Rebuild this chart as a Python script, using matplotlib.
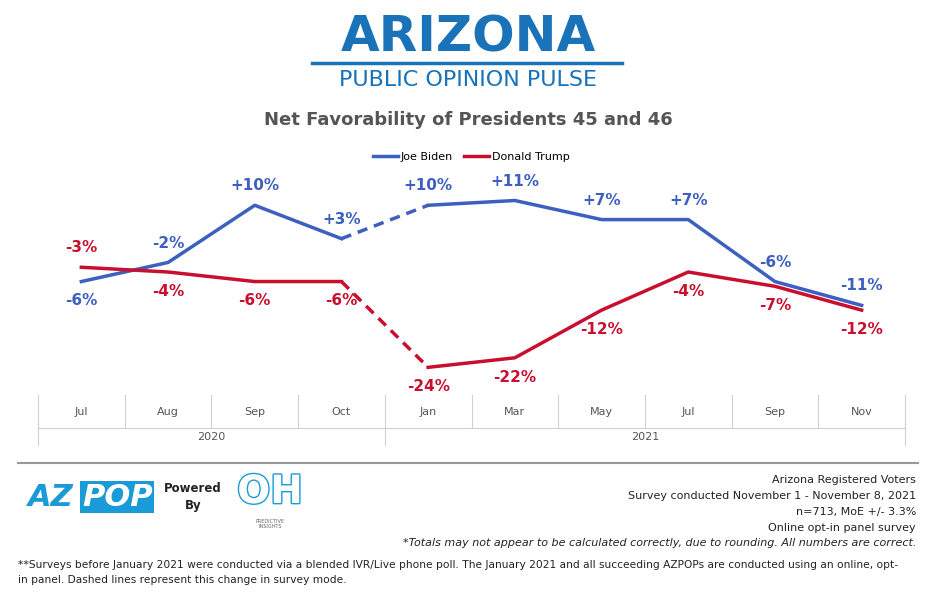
import matplotlib.pyplot as plt
import matplotlib.patheffects as pe
from matplotlib.lines import Line2D

months = ["Jul", "Aug", "Sep", "Oct", "Jan", "Mar", "May", "Jul", "Sep", "Nov"]
years = ["2020", "2021"]
biden = [-6, -2, 10, 3, 10, 11, 7, 7, -6, -11]
trump = [-3, -4, -6, -6, -24, -22, -12, -4, -7, -12]
biden_pos = ["below", "above", "above", "above", "above", "above", "above", "above", "above", "above"]
trump_pos = ["above", "below", "below", "below", "below", "below", "below", "below", "below", "below"]

BLUE = "#3d5fbf"
RED = "#c8102e"
W, H = 936, 596

fig = plt.figure(figsize=(W / 100, H / 100), dpi=100)

def fx(px):
    return px / W

def fy(py):
    return 1 - py / H

# header
fig.text(fx(468), fy(38), "ARIZONA", ha="center", va="center", fontsize=36,
         fontweight="bold", color="#1a73b8")
fig.add_artist(Line2D([fx(312), fx(622)], [fy(63), fy(63)], color="#1a73b8", lw=2.5))
fig.text(fx(468), fy(80), "PUBLIC OPINION PULSE", ha="center", va="center",
         fontsize=16, color="#1a73b8")
fig.text(fx(468), fy(120), "Net Favorability of Presidents 45 and 46", ha="center",
         va="center", fontsize=13, fontweight="bold", color="#555555")

# plot area
ax = fig.add_axes([fx(38), fy(395), fx(905) - fx(38), (395 - 170) / H])
x = list(range(len(months)))
ax.plot(x[:4], biden[:4], color=BLUE, lw=2.5)
ax.plot(x[3:5], biden[3:5], color=BLUE, lw=2.5, ls=(0, (3, 2)))
ax.plot(x[4:], biden[4:], color=BLUE, lw=2.5)
ax.plot(x[:4], trump[:4], color=RED, lw=2.5)
ax.plot(x[3:5], trump[3:5], color=RED, lw=2.5, ls=(0, (3, 2)))
ax.plot(x[4:], trump[4:], color=RED, lw=2.5)
ax.set_xlim(-0.5, len(months) - 0.5)
ax.set_ylim(-29.8, 17.4)
ax.axis("off")

def lab(v):
    return f"+{v}%" if v > 0 else f"{v}%"

for i in x:
    for vals, pos, c in ((biden, biden_pos, BLUE), (trump, trump_pos, RED)):
        off = 14 if pos[i] == "above" else -14
        ax.annotate(lab(vals[i]), (i, vals[i]), xytext=(0, off), textcoords="offset points",
                    ha="center", va="center", fontsize=11, fontweight="bold", color=c)

# legend
ax.legend(handles=[Line2D([], [], color=BLUE, lw=2.5, label="Joe Biden"),
                   Line2D([], [], color=RED, lw=2.5, label="Donald Trump")],
          loc="center", bbox_to_anchor=(0.5, 1.06), ncol=2, frameon=False,
          fontsize=8, handlelength=2.2, columnspacing=1.0, handletextpad=0.3)

# category axis
left, right = 38, 905
step = (right - left) / len(months)
for i, m in enumerate(months):
    fig.text(fx(left + step * (i + 0.5)), fy(412), m, ha="center", va="center",
             fontsize=8, color="#555555")
for i in range(len(months) + 1):
    y2 = 445 if i in (0, 4, 10) else 428
    fig.add_artist(Line2D([fx(left + step * i)] * 2, [fy(395), fy(y2)], color="#d0d0d0", lw=0.8))
fig.add_artist(Line2D([fx(left), fx(right)], [fy(428), fy(428)], color="#d0d0d0", lw=0.8))
fig.text(fx(left + step * 2), fy(437), years[0], ha="center", va="center", fontsize=8, color="#555555")
fig.text(fx(left + step * 7), fy(437), years[1], ha="center", va="center", fontsize=8, color="#555555")

# footer
fig.add_artist(Line2D([fx(18), fx(918)], [fy(463), fy(463)], color="#999999", lw=1.5))
fig.text(fx(28), fy(497), "AZ", ha="left", va="center", fontsize=22, fontweight="bold",
         color="#1a9ad6", fontstyle="italic")
fig.text(fx(82), fy(497), "POP", ha="left", va="center", fontsize=22, fontweight="bold",
         color="white", fontstyle="italic",
         bbox=dict(boxstyle="square,pad=0.05", fc="#1a9ad6", ec="none"))
fig.text(fx(193), fy(497), "Powered\nBy", ha="center", va="center", fontsize=8.5,
         fontweight="bold", color="#222222", linespacing=1.5)
t = fig.text(fx(270), fy(492), "OH", ha="center", va="center", fontsize=28, color="white",
             fontweight="bold")
t.set_path_effects([pe.withStroke(linewidth=2, foreground="#1a9ad6")])
fig.text(fx(270), fy(524), "PREDICTIVE\nINSIGHTS", ha="center", va="center",
         fontsize=3.5, color="#666666")

rx = fx(916)
lines = ["Arizona Registered Voters",
         "Survey conducted November 1 - November 8, 2021",
         "n=713, MoE +/- 3.3%",
         "Online opt-in panel survey"]
for k, s in enumerate(lines):
    fig.text(rx, fy(480 + 16 * k), s, ha="right", va="center", fontsize=8, color="#222222")
fig.text(rx, fy(543), "*Totals may not appear to be calculated correctly, due to rounding. All numbers are correct.",
         ha="right", va="center", fontsize=8, fontstyle="italic", color="#222222")
fig.text(fx(18), fy(565), "**Surveys before January 2021 were conducted via a blended IVR/Live phone poll. The January 2021 and all succeeding AZPOPs are conducted using an online, opt-",
         ha="left", va="center", fontsize=7.7, color="#222222")
fig.text(fx(18), fy(580), "in panel. Dashed lines represent this change in survey mode.",
         ha="left", va="center", fontsize=7.7, color="#222222")

fig.savefig("out.png", dpi=100)
